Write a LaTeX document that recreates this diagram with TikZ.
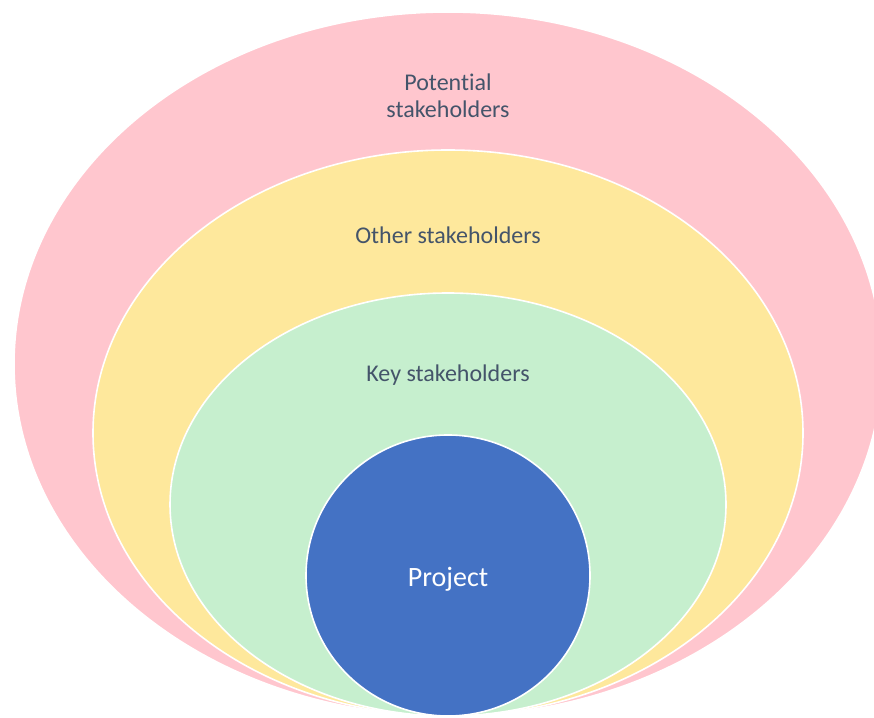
\documentclass[tikz,border=0pt]{standalone}
\usepackage{fontspec}
\setmainfont{Carlito}[Ligatures=NoCommon]
\usetikzlibrary{shapes.geometric,positioning}
\definecolor{ringpink}{RGB}{255,198,206}
\definecolor{ringyellow}{RGB}{254,232,156}
\definecolor{ringgreen}{RGB}{198,239,206}
\definecolor{coreblue}{RGB}{68,114,196}
\definecolor{labelslate}{RGB}{68,84,106}

\begin{document}
\begin{tikzpicture}[x=1pt, y=1pt,
    ring/.style={draw=white, line width=1.6pt, ellipse, inner sep=0pt},
    ringlabel/.style={text=labelslate, font=\fontsize{24}{27}\selectfont, align=center}]
    \useasboundingbox (0,0) rectangle (874,717);
    \clip (0,0) rectangle (874,717);

    \node[ring, fill=ringpink, minimum width=868pt, minimum height=704pt] (potential) at (448,353) {};
    \node[ring, fill=ringyellow, minimum width=710pt, minimum height=566pt] (other) at (448,284) {};
    \node[ring, fill=ringgreen, minimum width=556pt, minimum height=423pt] (key) at (448,212.5) {};
    \node[ring, fill=coreblue, minimum width=284pt, minimum height=281pt] (project) at (448,141.5) {};

    \node[text=white, font=\fontsize{28}{32}\selectfont] (projectlbl) at ([yshift=-4pt]project.center) {Project};
    \node[ringlabel] (potentiallbl) at ([yshift=-85pt]potential.north) {Potential\\stakeholders};
    \node[ringlabel] (otherlbl) at ([yshift=-86pt]other.north) {Other stakeholders};
    \node[ringlabel] (keylbl) at ([yshift=-83pt]key.north) {Key stakeholders};
\end{tikzpicture}
\end{document}
